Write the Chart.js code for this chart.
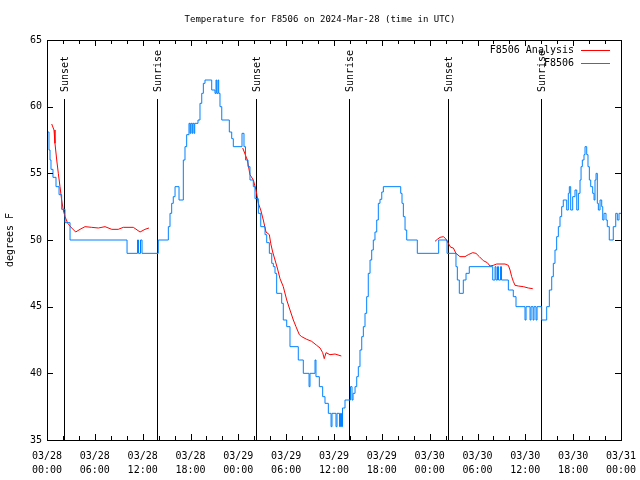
<!DOCTYPE html>
<html>
<head>
<meta charset="utf-8">
<script src="https://cdn.jsdelivr.net/npm/chart.js@4/dist/chart.umd.min.js"></script>
<style>
  html, body { margin: 0; padding: 0; background: #fff; }
  #wrap { width: 640px; height: 480px; }
</style>
</head>
<body>
<div id="wrap"><canvas id="chart" width="640" height="480"></canvas></div>
<script>
// hours since 03/28 00:00 UTC, temperatures in degrees F
const obsHours = [0.13, 0.25, 0.38, 0.50, 0.75, 1.13, 1.51, 1.84, 2.26, 2.89,
  10.04, 11.35, 11.48, 11.73, 11.92, 13.96, 15.22, 15.43, 15.64, 15.84,
  16.06, 16.56, 17.10, 17.31, 17.52, 17.81, 17.94, 18.03, 18.19, 18.28,
  18.44, 18.53, 18.94, 19.19, 19.41, 19.61, 19.82, 20.66, 21.07, 21.20,
  21.29, 21.45, 21.54, 21.70, 21.92, 22.87, 23.17, 23.37, 24.46, 24.71,
  24.90, 25.21, 25.46, 25.88, 26.09, 26.51, 26.81, 27.35, 27.56, 27.89,
  28.19, 28.39, 28.60, 28.81, 29.44, 29.64, 30.07, 30.48, 31.52, 32.15,
  32.87, 32.99, 33.62, 33.74, 34.16, 34.58, 34.87, 35.29, 35.63, 35.75,
  36.25, 36.38, 36.69, 36.82, 36.94, 37.07, 37.38, 38.07, 38.26, 38.39,
  38.64, 38.85, 39.05, 39.26, 39.48, 39.68, 39.89, 40.10, 40.30, 40.52,
  40.73, 40.93, 41.14, 41.36, 41.56, 41.77, 41.99, 42.19, 44.37, 44.53,
  44.70, 44.91, 45.12, 46.45, 49.13, 50.18, 51.30, 51.47, 51.72, 52.22,
  52.56, 52.97, 55.91, 56.20, 56.32, 56.51, 56.64, 56.89, 57.01, 57.87,
  58.49, 58.83, 59.96, 60.09, 60.59, 60.72, 60.97, 61.09, 61.34, 61.47,
  62.05, 62.68, 63.01, 63.31, 63.51, 63.72, 63.93, 64.14, 64.35, 64.56,
  64.76, 65.19, 65.39, 65.52, 65.69, 65.94, 66.23, 66.45, 66.65, 66.86,
  66.99, 67.15, 67.36, 67.49, 67.70, 67.86, 68.03, 68.20, 68.45, 68.62,
  68.74, 68.87, 69.03, 69.16, 69.37, 69.58, 69.71, 69.87, 70.12, 70.28,
  70.53, 71.03, 71.34, 71.54, 71.75, 72];
const obsTemps = [58.1, 56.75, 56, 55.3, 54.7, 54, 53.4, 52.3, 51.3, 50,
  49, 50, 49, 50, 49, 50, 51, 52, 52.75, 53.25,
  54, 53, 56, 57, 57.9, 58.75, 58, 58.75, 58, 58.75,
  58, 58.75, 59, 60.25, 61, 61.75, 62, 61.25, 61, 62,
  61, 62, 61, 60, 59, 58.1, 57.6, 57, 58, 57,
  56, 55.5, 54.5, 54, 53.1, 52, 51, 50.4, 49.8, 49,
  48.25, 48, 47.5, 46, 45.25, 44, 43.5, 42, 41, 40,
  39, 40, 41, 39.75, 39, 38.25, 37.75, 37, 36, 37,
  36, 37, 36, 37, 36, 37.4, 38, 39, 38, 38.5,
  39, 39.75, 40.5, 41.75, 42.75, 43.5, 44.5, 45.75, 47.5, 48.5,
  49.25, 50, 50.6, 51.5, 52.75, 53.05, 53.6, 54, 53.5, 52.75,
  51.75, 50.75, 50, 49, 50, 49, 48, 47, 46, 47,
  47.5, 48, 47, 48, 47, 48, 47, 48, 47, 46.25,
  45.75, 45, 44, 45, 44, 45, 44, 45, 44, 45,
  44, 45, 46.25, 47.25, 48.25, 49.25, 50.25, 51, 51.75, 52.5,
  53, 52.25, 53.5, 54, 52.25, 53.25, 53.75, 52.25, 53.5, 54.5,
  55.5, 56, 56.4, 57, 56.4, 55.5, 54.5, 54, 53.5, 53,
  54.5, 55, 52.75, 52.25, 53, 52.5, 51.5, 52, 51.5, 51,
  50, 51, 52, 51.5, 52, 52];

// analysis run, null breaks the line between the three nights
const anaHours = [0.59, 0.88, 1.00, 1.22, 1.42, 1.63, 1.84, 2.04, 2.26, 2.60,
  3.10, 3.60, 4.14, 4.77, 5.61, 6.44, 7.28, 8.12, 8.94, 9.57,
  10.83, 11.67, 12.29, 12.79, 18,
  24.55, 25.13, 25.46, 25.88, 26.22, 26.51, 26.81, 27.13, 27.47, 27.89,
  28.06, 28.31, 28.60, 28.89, 29.23, 29.64, 30.07, 30.48, 30.90, 31.23,
  31.65, 31.95, 32.58, 33.20, 33.83, 34.25, 34.58, 34.78, 35.00, 35.50,
  36.13, 36.92, 42,
  48.67, 48.96, 49.30, 49.72, 50.01, 50.34, 50.64, 50.97, 51.30, 51.80,
  52.43, 52.85, 53.40, 53.81, 54.23, 54.73, 55.23, 55.57, 55.98, 56.41,
  57.45, 57.87, 58.08, 58.29, 58.49, 58.71, 59.12, 59.75, 60.38, 60.93];
const anaTemps = [58.7, 58.25, 57.25, 56, 55, 54, 53, 52.25, 51.75, 51.25,
  50.9, 50.6, 50.8, 51, 50.95, 50.9, 51, 50.8, 50.8, 50.95,
  50.95, 50.6, 50.8, 50.9, null,
  56.9, 56, 54.9, 54.5, 53.75, 52.75, 52.25, 51.5, 50.6, 50.4,
  49.75, 49.1, 48.5, 47.9, 47.1, 46.5, 45.5, 44.75, 44, 43.5,
  42.9, 42.75, 42.55, 42.4, 42.1, 41.9, 41.55, 41.1, 41.55, 41.4,
  41.45, 41.3, null,
  49.9, 50.05, 50.2, 50.25, 50.1, 49.75, 49.45, 49.4, 49, 48.75,
  48.75, 48.9, 49.05, 49, 48.75, 48.45, 48.3, 48.05, 48.1, 48.2,
  48.2, 48.1, 47.75, 47.25, 46.9, 46.6, 46.55, 46.5, 46.4, 46.35];

const sunHours  = [2.13, 13.80, 26.22, 37.88, 50.30, 61.97];
const sunLabels = ['Sunset', 'Sunrise', 'Sunset', 'Sunrise', 'Sunset', 'Sunrise'];
const dayLabels = ['03/28', '03/29', '03/30', '03/31'];

const MONO = "'DejaVu Sans Mono', 'Liberation Mono', monospace";
Chart.defaults.font.family = MONO;
Chart.defaults.font.size = 10;
Chart.defaults.color = '#000';

const pts = (xs, ys) => xs.map((x, i) => ({ x: x, y: ys[i] }));

// gnuplot-ish frame: box, inward ticks, sun markers, legend
const gnuFrame = {
  id: 'gnuFrame',
  beforeDatasetsDraw(chart) {
    const { ctx, chartArea: a, scales: { x } } = chart;
    ctx.save();
    ctx.strokeStyle = '#000';
    ctx.lineWidth = 1;
    ctx.font = '10px ' + MONO;
    ctx.fillStyle = '#000';
    sunHours.forEach((h, i) => {
      const px = Math.round(x.getPixelForValue(h)) + 0.5;
      ctx.beginPath();
      ctx.moveTo(px, a.top + 59);
      ctx.lineTo(px, a.bottom);
      ctx.stroke();
      ctx.save();
      ctx.translate(px, a.top + 52);
      ctx.rotate(-Math.PI / 2);
      ctx.textAlign = 'left';
      ctx.textBaseline = 'middle';
      ctx.fillText(sunLabels[i], 0, 1);
      ctx.restore();
    });
    ctx.restore();
  },
  afterDatasetsDraw(chart) {
    const { ctx, chartArea: a, scales: { x, y } } = chart;
    ctx.save();
    ctx.strokeStyle = '#000';
    ctx.lineWidth = 1;
    ctx.strokeRect(Math.round(a.left) + 0.5, Math.round(a.top) + 0.5,
      Math.round(a.right - a.left), Math.round(a.bottom - a.top));
    ctx.beginPath();
    for (let h = 0; h <= 72; h += 2) {
      const px = Math.round(x.getPixelForValue(h)) + 0.5;
      const len = h % 6 === 0 ? 6 : 4;
      ctx.moveTo(px, a.bottom); ctx.lineTo(px, a.bottom - len);
      ctx.moveTo(px, a.top); ctx.lineTo(px, a.top + len);
    }
    for (let v = 35; v <= 65; v += 5) {
      const py = Math.round(y.getPixelForValue(v)) + 0.5;
      ctx.moveTo(a.left, py); ctx.lineTo(a.left + 6, py);
      ctx.moveTo(a.right, py); ctx.lineTo(a.right - 6, py);
    }
    ctx.stroke();

    // legend, right-aligned text with sample line after it
    ctx.font = '10px ' + MONO;
    ctx.textAlign = 'right';
    ctx.textBaseline = 'middle';
    const rows = [chart.data.datasets[1], chart.data.datasets[0]];
    rows.forEach((ds, i) => {
      const ly = a.top + 10 + i * 13;
      ctx.fillStyle = '#000';
      ctx.fillText(ds.label, a.right - 47, ly);
      ctx.strokeStyle = ds.borderColor;
      ctx.beginPath();
      ctx.moveTo(a.right - 40, Math.round(ly) + 0.5);
      ctx.lineTo(a.right - 11, Math.round(ly) + 0.5);
      ctx.stroke();
    });
    ctx.restore();
  }
};

new Chart(document.getElementById('chart'), {
  type: 'line',
  data: {
    datasets: [
      { label: 'F8506', data: pts(obsHours, obsTemps), stepped: true,
        borderColor: '#0080ff', borderWidth: 1, pointRadius: 0 },
      { label: 'F8506 Analysis', data: pts(anaHours, anaTemps),
        borderColor: '#ff0000', borderWidth: 1, pointRadius: 0, spanGaps: false }
    ]
  },
  options: {
    responsive: false,
    animation: false,
    devicePixelRatio: 1,
    layout: { padding: 0 },
    plugins: {
      legend: { display: false },
      tooltip: { enabled: false },
      title: {
        display: true,
        text: 'Temperature for F8506 on 2024-Mar-28 (time in UTC)',
        font: { size: 9, weight: 'normal' },
        padding: { top: 14.6, bottom: 14.6 }
      }
    },
    scales: {
      x: {
        type: 'linear', min: 0, max: 72,
        grid: { display: false, drawTicks: false },
        border: { display: false },
        ticks: {
          stepSize: 6, autoSkip: false, maxRotation: 0, padding: 9,
          font: { size: 10, lineHeight: 1.4 },
          callback: v => {
            const d = dayLabels[Math.floor(v / 24)];
            const hh = String(v % 24).padStart(2, '0');
            return [d, hh + ':00'];
          }
        },
        afterFit: s => { s.height = 40; s.paddingLeft = 0; s.paddingRight = 0; }
      },
      y: {
        min: 35, max: 65,
        grid: { display: false, drawTicks: false },
        border: { display: false },
        ticks: { stepSize: 5, padding: 5, font: { size: 10 } },
        title: { display: true, text: 'degrees F', font: { size: 10 }, padding: { top: 4, bottom: 4 } },
        afterFit: s => { s.width = 47; s.paddingTop = 0; s.paddingBottom = 0; }
      },
      // empty right margin so the title centres on the whole canvas
      yRight: {
        position: 'right', min: 35, max: 65,
        grid: { display: false, drawTicks: false },
        border: { display: false },
        ticks: { display: false },
        afterFit: s => { s.width = 19; s.paddingTop = 0; s.paddingBottom = 0; }
      }
    }
  },
  plugins: [gnuFrame]
});
</script>
</body>
</html>
